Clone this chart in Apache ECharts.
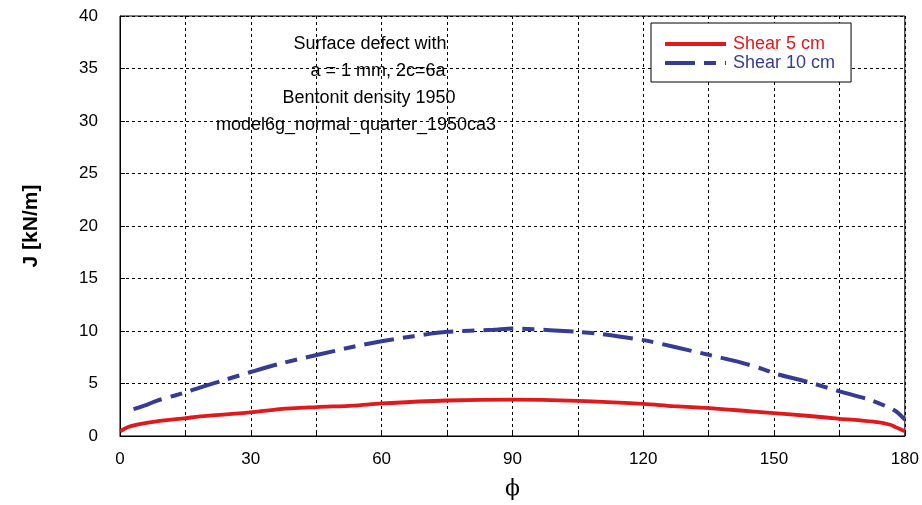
<!DOCTYPE html>
<html><head><meta charset="utf-8">
<script src="https://cdn.jsdelivr.net/npm/echarts@6/dist/echarts.min.js"></script>
<style>html,body{margin:0;padding:0;background:#fff}#c{width:922px;height:505px}</style>
</head><body><div id="c"></div>
<script>
const phi5 = [0, 2.3, 8.4, 15.1, 18.3, 29.8, 36.7, 45.1, 53.5, 60, 75, 90, 105, 120, 126.9, 135.2, 142.3, 150, 157.5, 165.2, 172.8, 176.7, 178, 180];
const shear5 = [0.45, 0.92, 1.39, 1.7, 1.86, 2.24, 2.56, 2.75, 2.9, 3.1, 3.38, 3.47, 3.35, 3.06, 2.84, 2.65, 2.43, 2.18, 1.93, 1.64, 1.36, 1.07, 0.82, 0.45];
const phi10 = [3.1, 6.1, 8.4, 12.6, 15.1, 18.3, 24.5, 29.8, 36.7, 45.1, 53.5, 60, 67.3, 75, 85.6, 90, 98.6, 105, 110, 120, 127, 135.2, 142.3, 147.6, 150, 157.5, 165.2, 172, 175.8, 178, 180];
const shear10 = [2.56, 2.97, 3.35, 3.86, 4.17, 4.61, 5.4, 6.07, 6.89, 7.71, 8.5, 9.03, 9.5, 9.92, 10.11, 10.24, 10.08, 9.92, 9.73, 9.13, 8.5, 7.71, 7.01, 6.35, 5.97, 5.18, 4.23, 3.44, 2.81, 2.34, 1.55];
const seriesNames = ['Shear 5 cm', 'Shear 10 cm'];
const annotation = ['Surface defect with', 'a = 1 mm, 2c=6a', 'Bentonit density 1950', 'model6g_normal_quarter_1950ca3'];
const annoX = [370, 378, 369, 356];
const RED = '#e0191c', BLUE = '#373b94';
const FONT = '"Liberation Sans", Arial, sans-serif';

const chart = echarts.init(document.getElementById('c'));
chart.setOption({
  animation: false,
  textStyle: {fontFamily: FONT},
  grid: {left: 120, right: 17, top: 16, bottom: 67, show: true, borderColor: '#000', borderWidth: 1},
  xAxis: {
    type: 'value', min: 0, max: 180, interval: 15,
    name: 'ϕ', nameLocation: 'middle', nameGap: 42,
    nameTextStyle: {fontSize: 22, color: '#000', fontFamily: 'DejaVu Serif'},
    axisLine: {lineStyle: {color: '#000', width: 1}},
    axisTick: {inside: true, length: 5, lineStyle: {color: '#000'}},
    axisLabel: {fontSize: 17, color: '#000', margin: 15, formatter: v => (v % 30 === 0 ? String(v) : '')},
    splitLine: {show: true, lineStyle: {color: '#000', type: [3, 3], width: 1}}
  },
  yAxis: {
    type: 'value', min: 0, max: 40, interval: 5,
    name: 'J [kN/m]', nameLocation: 'middle', nameGap: 78, nameRotate: 90,
    nameTextStyle: {fontSize: 21, fontWeight: 'bold', color: '#000'},
    axisLine: {lineStyle: {color: '#000', width: 1}},
    axisTick: {inside: true, length: 5, lineStyle: {color: '#000'}},
    axisLabel: {fontSize: 17, color: '#000', margin: 22},
    splitLine: {show: true, lineStyle: {color: '#000', type: [3, 3], width: 1}}
  },
  legend: {
    orient: 'vertical', left: 651, top: 23,
    padding: [12, 16, 10, 12], itemGap: 1, itemWidth: 61, itemHeight: 14,
    backgroundColor: '#fff', borderColor: '#000', borderWidth: 1,
    itemStyle: {opacity: 0},
    lineStyle: {width: 4},
    data: [
      {name: seriesNames[0], textStyle: {color: RED}},
      {name: seriesNames[1], textStyle: {color: BLUE}}
    ],
    textStyle: {fontSize: 18, fontFamily: FONT, padding: [0, 0, 0, 2]}
  },
  graphic: annotation.map((t, i) => ({
    type: 'text', x: annoX[i], y: 44 + 27 * i,
    style: {text: t, fontSize: 18, fill: '#000', fontFamily: FONT, textAlign: 'center', textVerticalAlign: 'middle'}
  })),
  series: [
    {name: seriesNames[0], type: 'line', showSymbol: false, symbol: 'none', smooth: 0.3,
     data: phi5.map((p, i) => [p, shear5[i]]),
     lineStyle: {color: RED, width: 3.8}, itemStyle: {color: RED}},
    {name: seriesNames[1], type: 'line', showSymbol: false, symbol: 'none', smooth: 0.3,
     data: phi10.map((p, i) => [p, shear10[i]]),
     lineStyle: {color: BLUE, width: 4, type: [30, 9, 12, 9]}, itemStyle: {color: BLUE}}
  ]
});
</script></body></html>
